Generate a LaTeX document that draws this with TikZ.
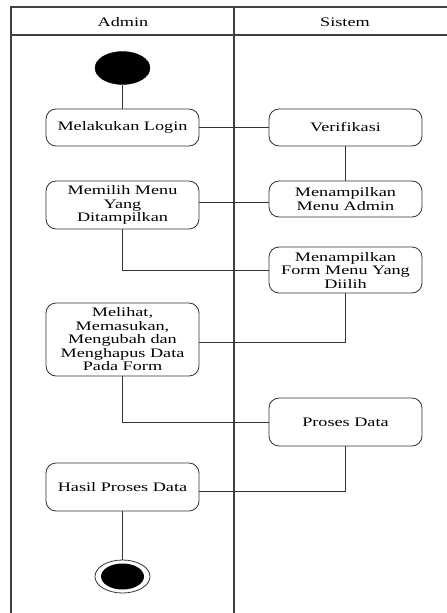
\documentclass[tikz,border=0pt]{standalone}
\usepackage{fontspec}
\setmainfont{Liberation Serif}[FakeStretch=1.4]
\usetikzlibrary{shapes.geometric}
\begin{document}
\begin{tikzpicture}[x=1pt,y=-1pt,
  lane/.style={draw=black!75, line width=1.3pt},
  act/.style={draw=black!80, line width=0.8pt, rounded corners=10pt,
    minimum width=153pt, inner sep=0pt, align=center,
    font=\fontsize{13}{13.5}\selectfont},
  flow/.style={draw=black!80, line width=0.8pt},
  hdr/.style={font=\fontsize{13}{14}\selectfont, inner sep=0pt},
  startnode/.style={ellipse, fill=black, draw=black, minimum width=55pt, minimum height=33pt, inner sep=0pt},
  endouter/.style={ellipse, draw=black!80, line width=0.8pt, fill=white, minimum width=55pt, minimum height=33pt, inner sep=0pt},
  endinner/.style={ellipse, fill=black, minimum width=43pt, minimum height=26pt, inner sep=0pt}]
\useasboundingbox (0,0) rectangle (447,613);
\fill[white] (0,0) rectangle (447,613);

% swimlane frame
\draw[lane] (11,613) -- (11,7) -- (447,7);
\draw[lane] (11,35) -- (447,35);
\draw[lane] (234,7) -- (234,613);
\node[hdr] (hadmin) at (123,22) {Admin};
\node[hdr] (hsistem) at (345,22) {Sistem};

% activities
\node[startnode] (start) at (122.5,68) {};
\node[act, minimum height=37pt] (login) at (122.5,127.5) {Melakukan Login};
\node[act, minimum height=37pt] (verif) at (345.5,127.5) {Verifikasi};
\node[act, minimum height=48pt] (memilih) at (122.5,205) {Memilih Menu\\Yang\\Ditampilkan};
\node[act, minimum height=36pt] (menuadm) at (345.5,199) {Menampilkan\\Menu Admin};
\node[act, minimum height=46pt] (form) at (345.5,270) {Menampilkan\\Form Menu Yang\\Diilih};
\node[act, minimum height=73pt] (melihat) at (122.5,339.5) {Melihat,\\Memasukan,\\Mengubah dan\\Menghapus Data\\Pada Form};
\node[act, minimum height=48pt] (proses) at (345.5,422) {Proses Data};
\node[act, minimum height=48pt] (hasil) at (122.5,487) {Hasil Proses Data};
\node[endouter] (finish) at (122.5,576.5) {};
\node[endinner] (finishdot) at (finish.center) {};

% joints on the box sides
\coordinate (mx) at ([yshift=-2.5pt]melihat.east);
\coordinate (hx) at ([yshift=-4pt]hasil.east);

% connectors
\draw[flow] (start) -- (login);
\draw[flow] (login) -- (verif);
\draw[flow] (verif) -- (menuadm);
\draw[flow] ([yshift=3pt]memilih.east) -- ([yshift=-3pt]menuadm.west);
\draw[flow] (memilih.south) |- (form.west);
\draw[flow] (form.south) |- (mx);
\draw[flow] (melihat.south) |- (proses.west);
\draw[flow] (proses.south) |- (hx);
\draw[flow] (hasil) -- (finish);
\end{tikzpicture}
\end{document}
